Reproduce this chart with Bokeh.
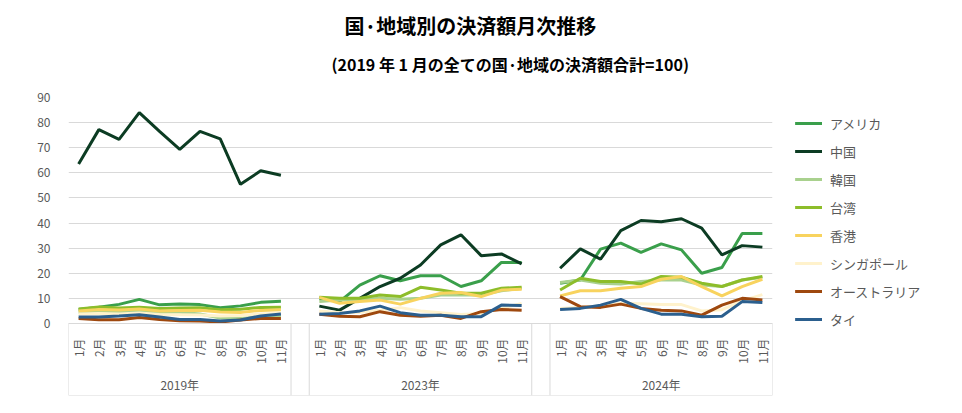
import math
from bokeh.plotting import figure
from bokeh.models import FactorRange, FixedTicker, Legend, LegendItem, Title, Range1d
from bokeh.embed import file_html
from bokeh.resources import INLINE

years = ["2019年", "2023年", "2024年"]
months = ["1月", "2月", "3月", "4月", "5月", "6月", "7月", "8月", "9月", "10月", "11月"]
y_ticks = [0, 10, 20, 30, 40, 50, 60, 70, 80, 90]

usa = {
    "2019年": [5.6, 6.5, 7.6, 9.6, 7.4, 7.7, 7.5, 6.3, 7.0, 8.4, 8.8],
    "2023年": [10.0, 8.7, 15.3, 19.0, 17.0, 19.0, 19.0, 14.7, 17.0, 24.3, 24.3],
    "2024年": [16.0, 17.3, 29.6, 32.0, 28.3, 31.7, 29.3, 20.0, 22.3, 35.8, 35.8],
}
china = {
    "2019年": [63.5, 77.2, 73.3, 84.0, 76.5, 69.3, 76.5, 73.5, 55.4, 60.8, 59.0],
    "2023年": [6.9, 5.3, 10.0, 14.7, 18.0, 23.3, 31.3, 35.3, 27.0, 27.7, 23.7],
    "2024年": [22.0, 29.7, 25.6, 37.0, 41.0, 40.5, 41.7, 38.0, 27.3, 31.0, 30.4],
}
korea = {
    "2019年": [4.5, 5.0, 4.6, 5.0, 4.5, 4.5, 3.8, 2.2, 2.0, 2.8, 3.2],
    "2023年": [8.7, 9.3, 9.3, 10.0, 9.6, 10.0, 11.3, 11.3, 11.3, 13.0, 14.0],
    "2024年": [16.3, 17.3, 16.0, 15.7, 16.7, 17.3, 17.3, 15.3, 14.7, 17.3, 18.4],
}
taiwan = {
    "2019年": [5.8, 6.6, 6.2, 6.5, 6.0, 6.2, 6.3, 5.5, 5.7, 6.4, 6.5],
    "2023年": [10.4, 10.0, 10.0, 11.3, 10.7, 14.4, 13.3, 12.0, 12.0, 14.0, 14.4],
    "2024年": [13.3, 18.0, 16.7, 16.7, 15.7, 18.7, 18.4, 16.0, 14.7, 17.3, 18.7],
}
hongkong = {
    "2019年": [5.0, 5.6, 5.4, 5.8, 5.0, 5.2, 5.3, 4.6, 4.4, 5.2, 5.5],
    "2023年": [10.4, 8.0, 8.7, 9.3, 7.7, 10.0, 12.0, 12.3, 10.7, 13.3, 13.6],
    "2024年": [11.0, 13.0, 13.0, 14.0, 14.7, 17.6, 18.7, 14.7, 11.0, 14.7, 17.6],
}
singapore = {
    "2019年": [3.8, 4.0, 3.8, 4.2, 3.6, 3.5, 3.4, 3.0, 3.2, 3.8, 4.0],
    "2023年": [5.0, 4.3, 4.5, 5.3, 6.3, 5.0, 4.3, 3.6, 4.0, 6.0, 8.0],
    "2024年": [6.0, 6.5, 7.0, 8.0, 7.8, 7.5, 7.5, 5.0, 5.5, 9.0, 11.5],
}
australia = {
    "2019年": [2.0, 1.5, 1.5, 2.4, 1.6, 1.1, 1.0, 0.6, 1.4, 2.0, 2.0],
    "2023年": [3.7, 2.9, 2.7, 4.7, 3.3, 2.9, 3.3, 2.0, 4.7, 5.6, 5.3],
    "2024年": [10.7, 6.7, 6.4, 7.7, 6.0, 5.3, 5.0, 3.3, 7.3, 10.0, 9.3],
}
thai = {
    "2019年": [2.6, 2.6, 3.0, 3.5, 2.6, 1.6, 1.6, 1.0, 1.4, 3.0, 3.8],
    "2023年": [3.7, 4.0, 5.0, 6.9, 4.3, 3.3, 3.3, 2.7, 2.7, 7.3, 7.1],
    "2024年": [5.6, 6.0, 7.3, 9.6, 6.0, 3.7, 3.7, 2.7, 2.9, 8.7, 8.3],
}

series = [
    ("アメリカ", usa, "#3a9f4b"),
    ("中国", china, "#0c3c23"),
    ("韓国", korea, "#a9d18e"),
    ("台湾", taiwan, "#8dbd2a"),
    ("香港", hongkong, "#f8d35e"),
    ("シンガポール", singapore, "#fff2cc"),
    ("オーストラリア", australia, "#9e480e"),
    ("タイ", thai, "#2b5f8e"),
]

FONT = "Noto Sans CJK JP"
TXT = "#595959"
GRID = "#d9d9d9"
table_bottom = -28.7

factors = [(y, m) for y in years for m in months]
x_range = FactorRange(factors=factors, group_padding=0.9, range_padding=0)

p = figure(frame_width=704, frame_height=298, x_range=x_range, y_range=Range1d(table_bottom, 90),
           output_backend="svg", toolbar_location=None,
           min_border_left=68, min_border_right=175, min_border_top=10, min_border_bottom=10)
p.outline_line_color = None
p.background_fill_color = "white"

p.title = Title(text="国·地域別の決済額月次推移", align="left", offset=276,
                text_font=FONT, text_font_size="20px", text_font_style="bold",
                text_color="black", standoff=16)
# spacer between subtitle and plot area
p.add_layout(Title(text=" ", text_font_size="1px", standoff=17), "above")
p.add_layout(Title(text="(2019 年 1 月の全ての国·地域の決済額合計=100)", align="left", offset=263,
                   text_font=FONT, text_font_size="16px", text_font_style="bold",
                   text_color="black", standoff=4), "above")

# table lines for the category axis
for y in years:
    for edge in [(y, months[0], -0.5), (y, months[-1], 0.5)]:
        p.line(x=[edge, edge], y=[0, table_bottom], line_color=GRID, line_width=1)
p.line(x=[(years[0], months[0], -0.5), (years[-1], months[-1], 0.5)],
       y=[table_bottom, table_bottom], line_color=GRID, line_width=1)

items = []
for name, data, color in series:
    rs = []
    for y in years:
        r = p.line(x=[(y, m) for m in months], y=data[y], line_color=color, line_width=3)
        rs.append(r)
    items.append(LegendItem(label=name, renderers=rs))

legend = Legend(items=items, location=(23, 66), border_line_color=None,
                background_fill_alpha=0, padding=0, margin=0, spacing=8,
                glyph_width=27, glyph_height=20, label_height=20, label_standoff=8,
                label_text_font=FONT, label_text_font_size="13px", label_text_color=TXT)
p.add_layout(legend, "right")

p.yaxis.ticker = FixedTicker(ticks=y_ticks)
p.yaxis.axis_line_color = None
p.yaxis.major_tick_line_color = None
p.yaxis.minor_tick_line_color = None
p.yaxis.major_label_standoff = 12
p.yaxis.major_label_text_font = FONT
p.yaxis.major_label_text_font_size = "12px"
p.yaxis.major_label_text_color = TXT

p.ygrid.ticker = FixedTicker(ticks=y_ticks)
p.ygrid.grid_line_color = GRID
p.xgrid.grid_line_color = None

xa = p.xaxis[0]
xa.fixed_location = 0
xa.axis_line_color = GRID
xa.major_tick_line_color = None
xa.minor_tick_line_color = None
xa.separator_line_color = None
xa.major_label_orientation = math.pi / 2
xa.major_label_text_align = "right"
xa.major_label_text_baseline = "middle"
xa.major_label_standoff = 9
xa.major_label_text_font = FONT
xa.major_label_text_font_size = "12px"
xa.major_label_text_color = TXT
xa.group_text_font = FONT
xa.group_text_font_size = "12px"
xa.group_text_font_style = "normal"
xa.group_text_color = TXT
xa.group_label_orientation = "parallel"

open("out.html", "w").write(file_html(p, INLINE))
